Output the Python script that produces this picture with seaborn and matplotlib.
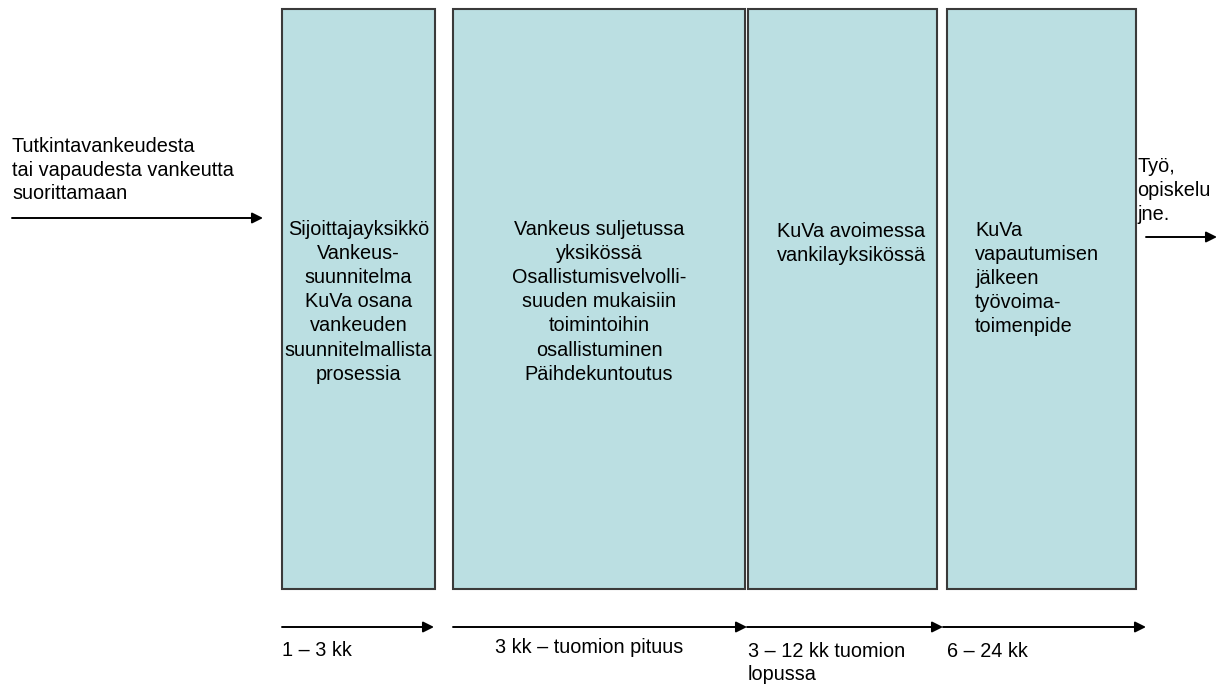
import matplotlib
matplotlib.use("Agg")
import matplotlib.pyplot as plt
import seaborn as sns

# Tyyli
sns.set_theme(style="white")
plt.rcParams['font.family'] = ['Liberation Sans', 'DejaVu Sans']

# Vaiheiden tekstit (laatikot)
stage_lines = [
    ["Sijoittajayksikkö", "Vankeus-", "suunnitelma", "KuVa osana", "vankeuden",
     "suunnitelmallista", "prosessia"],
    ["Vankeus suljetussa", "yksikössä", "Osallistumisvelvolli-", "suuden mukaisiin",
     "toimintoihin", "osallistuminen", "Päihdekuntoutus"],
    ["KuVa avoimessa", "vankilayksikössä"],
    ["KuVa", "vapautumisen", "jälkeen", "työvoima-", "toimenpide"],
]
# Kestot (alarivin nuolet)
period_lines = [
    ["1 – 3 kk"],
    ["3 kk – tuomion pituus"],
    ["3 – 12 kk tuomion", "lopussa"],
    ["6 – 24 kk"],
]
entry_lines = ["Tutkintavankeudesta", "tai vapaudesta vankeutta", "suorittamaan"]
exit_lines = ["Työ,", "opiskelu", "jne."]

# Asettelu (pikseleinä, y alaspäin)
box_left = [282, 453, 748, 947]
box_right = [435, 745, 937, 1136]
box_top, box_bottom = 9, 589
stage_align = ['center', 'center', 'left', 'left']
stage_text_x = [358.5, 599, 777, 975]
stage_first_baseline = [235, 235, 237, 236]
period_arrows = [(282, 434), (453, 747), (747, 943), (943, 1146)]
period_text_x = [282, 495, 748, 947]
period_baseline = [656, 653, 657, 657]
line_step = 24.1

fill_col = '#BBDFE2'
edge_col = '#3a3a3a'
fs = 14.3

fig = plt.figure(figsize=(12.24, 6.88), dpi=100)
ax = fig.add_axes([0, 0, 1, 1])
ax.set_xlim(0, 1224)
ax.set_ylim(688, 0)
ax.axis('off')

# Laatikot
widths = [r - l for l, r in zip(box_left, box_right)]
ax.bar(box_left, box_bottom - box_top, width=widths, bottom=box_top, align='edge',
       color=fill_col, edgecolor=edge_col, linewidth=1.5)

for lines, x, y0, ha in zip(stage_lines, stage_text_x, stage_first_baseline, stage_align):
    for i, line in enumerate(lines):
        ax.text(x, y0 + i * line_step, line, ha=ha, va='baseline', fontsize=fs, color='black')

arrow_kw = dict(arrowstyle='-|>', lw=1.4, color='black', mutation_scale=16,
                shrinkA=0, shrinkB=0)

# Tulonuoli vasemmalla
ax.annotate('', xy=(263, 218), xytext=(12, 218), arrowprops=arrow_kw)
for i, line in enumerate(entry_lines):
    ax.text(12, 152 + i * 23.5, line, ha='left', va='baseline', fontsize=fs, color='black')

# Lähtönuoli oikealla
ax.annotate('', xy=(1217, 237), xytext=(1146, 237), arrowprops=arrow_kw)
for i, line in enumerate(exit_lines):
    ax.text(1137, 172 + i * 24, line, ha='left', va='baseline', fontsize=fs, color='black')

# Kestot
for (x0, x1), lines, tx, ty in zip(period_arrows, period_lines, period_text_x, period_baseline):
    ax.annotate('', xy=(x1, 627), xytext=(x0, 627), arrowprops=arrow_kw)
    for i, line in enumerate(lines):
        ax.text(tx, ty + i * 23, line, ha='left', va='baseline', fontsize=fs, color='black')

fig.savefig('out.png', dpi=100, facecolor='white')
